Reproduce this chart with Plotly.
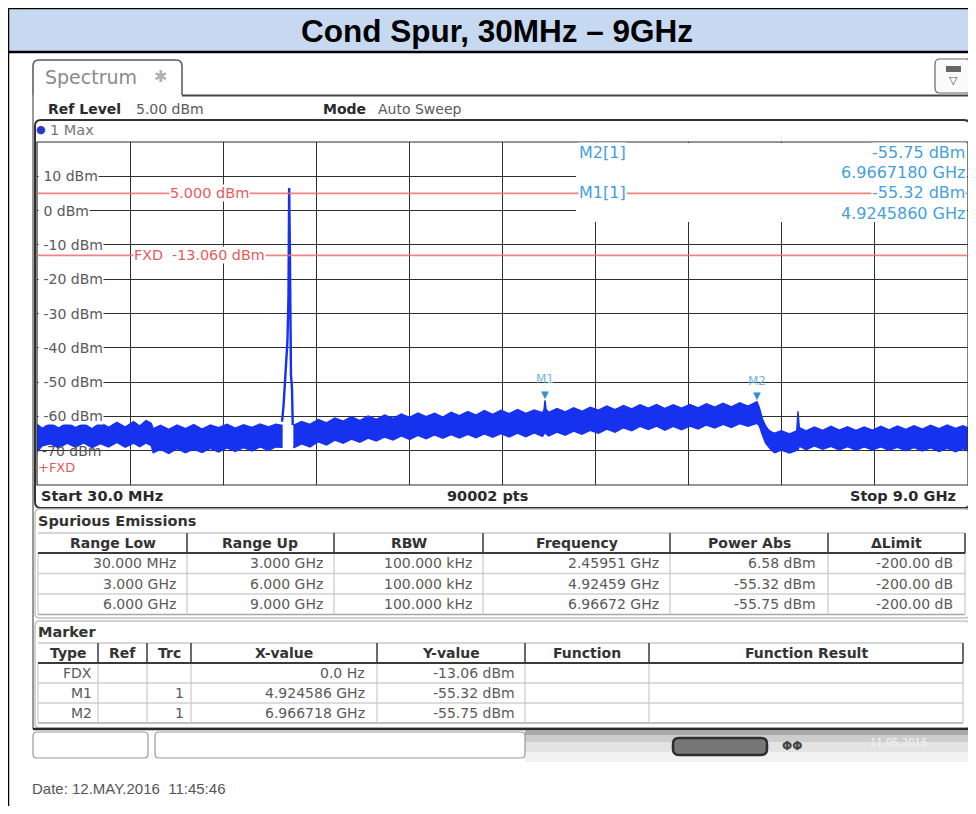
import plotly.graph_objects as go

# ------------------------------------------------------------------ data
sweep_start_ghz = 0.03
sweep_stop_ghz = 9.0
grid_step_ghz = 0.897
y_range_dbm = [-80, 20]
y_tick_dbm = [10, 0, -10, -20, -30, -40, -50, -60, -70]
limit_line_dbm = 5.0
fxd_line_dbm = -13.06

# noise band below the carrier (min / max envelope of the max-hold trace)
noise_low_freq = [0.03, 0.08, 0.16, 0.24, 0.32, 0.40, 0.48, 0.56, 0.64, 0.72,
                  0.80, 0.88, 0.96, 1.02, 1.08, 1.13, 1.15, 1.22, 1.30, 1.38,
                  1.46, 1.54, 1.62, 1.70, 1.78, 1.86, 1.94, 2.02, 2.10, 2.18,
                  2.26, 2.33, 2.39]
noise_low_top = [-62.3, -63.5, -62.0, -63.4, -61.9, -63.3, -62.1, -63.6, -61.8, -63.2,
                 -61.7, -63.1, -61.5, -62.8, -61.2, -62.0, -63.6, -62.6, -63.8, -62.5,
                 -63.6, -62.4, -63.7, -62.5, -63.3, -62.3, -63.4, -62.4, -63.2, -62.2,
                 -63.1, -62.3, -62.6]
noise_low_bottom = [-70.4, -68.6, -68.0, -69.2, -67.8, -69.0, -67.7, -69.1, -67.9, -68.9,
                    -67.6, -69.0, -67.8, -68.8, -67.7, -68.5, -70.6, -69.6, -70.8, -69.4,
                    -70.6, -69.5, -70.5, -69.3, -70.4, -69.2, -70.2, -69.1, -70.1, -68.9,
                    -69.9, -68.9, -69.0]

# carrier at 2.45951 GHz
spur_freq = [2.391, 2.405, 2.419, 2.434, 2.443, 2.453, 2.4595, 2.466, 2.471, 2.477, 2.487, 2.494]
spur_level = [-61.5, -57.0, -50.0, -44.0, -38.0, -25.0, 6.58, -10.0, -35.0, -48.0, -52.0, -62.5]

# noise band above the carrier
noise_high_freq = [2.50, 2.58, 2.66, 2.74, 2.82, 2.90, 2.98, 3.06, 3.14, 3.22,
                   3.30, 3.38, 3.46, 3.54, 3.62, 3.70, 3.78, 3.86, 3.94, 4.02,
                   4.10, 4.18, 4.26, 4.34, 4.42, 4.50, 4.58, 4.66, 4.74, 4.82,
                   4.90, 4.915, 4.9246, 4.935, 4.96, 5.04, 5.12, 5.20, 5.28, 5.36,
                   5.44, 5.52, 5.60, 5.68, 5.76, 5.84, 5.92, 6.00, 6.08, 6.16,
                   6.24, 6.32, 6.40, 6.48, 6.56, 6.64, 6.72, 6.80, 6.88, 6.94,
                   6.9667, 6.99, 7.02, 7.05, 7.08, 7.11, 7.14, 7.20, 7.28, 7.35,
                   7.362, 7.375, 7.44, 7.52, 7.60, 7.68, 7.76, 7.84, 7.92, 8.00,
                   8.08, 8.16, 8.24, 8.32, 8.40, 8.48, 8.56, 8.64, 8.72, 8.80,
                   8.88, 8.95, 9.00]
noise_high_top = [-62.6, -61.5, -62.3, -60.9, -61.9, -60.5, -61.4, -60.1, -61.2, -59.9,
                  -60.9, -59.6, -60.6, -59.3, -60.3, -59.0, -60.1, -59.1, -60.2, -58.8,
                  -59.8, -58.6, -59.6, -58.3, -59.4, -58.2, -59.2, -58.0, -59.1, -58.1,
                  -58.9, -58.1, -55.32, -58.0, -58.8, -57.7, -58.7, -57.5, -58.5, -57.3,
                  -58.2, -57.0, -58.0, -56.8, -57.8, -56.6, -57.6, -56.5, -57.7, -56.6,
                  -57.6, -56.5, -57.5, -56.3, -57.3, -56.2, -57.2, -56.0, -57.0, -56.2,
                  -55.75, -57.5, -60.8, -62.8, -64.0, -64.6, -64.9, -64.2, -65.1, -64.2,
                  -58.5, -63.3, -64.2, -63.1, -64.1, -62.9, -64.0, -63.0, -64.1, -63.1,
                  -64.0, -62.9, -63.9, -62.8, -63.8, -62.7, -63.7, -62.6, -63.6, -62.5,
                  -63.5, -62.7, -63.3]
noise_high_bottom = [-69.2, -68.0, -68.9, -67.4, -68.3, -66.9, -67.8, -66.6, -67.5, -66.3,
                     -67.2, -66.0, -66.9, -65.7, -66.7, -65.5, -66.5, -65.4, -66.4, -65.3,
                     -66.3, -65.2, -66.2, -65.1, -66.1, -65.0, -66.0, -64.9, -65.9, -64.8,
                     -65.8, -65.2, -64.2, -65.1, -65.7, -64.6, -65.5, -64.3, -65.2, -64.1,
                     -64.9, -63.7, -64.6, -63.3, -64.2, -62.9, -63.8, -62.8, -64.0, -62.9,
                     -63.9, -62.8, -63.7, -62.5, -63.4, -62.3, -63.2, -62.1, -62.9, -62.3,
                     -62.0, -62.8, -65.5, -67.8, -69.0, -70.0, -70.6, -69.8, -70.7, -69.9,
                     -69.8, -68.7, -69.7, -68.6, -69.6, -68.7, -69.8, -68.8, -69.9, -68.9,
                     -69.8, -68.9, -69.9, -69.0, -70.0, -69.1, -70.1, -69.2, -70.2, -69.3,
                     -70.3, -69.4, -70.1]

marker_names = ["M1", "M2"]
marker_freq_ghz = [4.924586, 6.966718]
marker_level_dbm = [-55.32, -55.75]

spur_headers = ["Range Low", "Range Up", "RBW", "Frequency", "Power Abs", "ΔLimit"]
spur_range_low = ["30.000 MHz", "3.000 GHz", "6.000 GHz"]
spur_range_up = ["3.000 GHz", "6.000 GHz", "9.000 GHz"]
spur_rbw = ["100.000 kHz", "100.000 kHz", "100.000 kHz"]
spur_peak_freq = ["2.45951 GHz", "4.92459 GHz", "6.96672 GHz"]
spur_power_abs = ["6.58 dBm", "-55.32 dBm", "-55.75 dBm"]
spur_delta_limit = ["-200.00 dB", "-200.00 dB", "-200.00 dB"]

mk_headers = ["Type", "Ref", "Trc", "X-value", "Y-value", "Function", "Function Result"]
mk_type = ["FDX", "M1", "M2"]
mk_ref = ["", "", ""]
mk_trc = ["", "1", "1"]
mk_xval = ["0.0 Hz", "4.924586 GHz", "6.966718 GHz"]
mk_yval = ["-13.06 dBm", "-55.32 dBm", "-55.75 dBm"]
mk_func = ["", "", ""]
mk_result = ["", "", ""]

# ------------------------------------------------------------------ helpers
W, H, OFF = 960, 798, 8


def X(px):
    return (px - OFF) / W


def Y(py):
    return 1 - (py - OFF) / H


FONT = "DejaVu Sans"
GRAY = "#5a5a5a"
DARK = "#2a2a2a"
BLUE = "rgb(22,50,238)"
MK_BLUE = "#45a0dc"
RED_LINE = "rgba(236,110,110,0.85)"
RED_TXT = "#e35c5c"
FS = 14

shapes = []
annotations = []


def line(x0, y0, x1, y1, color, width=1.0):
    shapes.append(dict(type="line", xref="paper", yref="paper",
                       x0=X(x0), y0=Y(y0), x1=X(x1), y1=Y(y1),
                       line=dict(color=color, width=width), layer="above"))


def rect(x0, y0, x1, y1, fill="rgba(0,0,0,0)", color="rgba(0,0,0,0)", width=0):
    shapes.append(dict(type="rect", xref="paper", yref="paper",
                       x0=X(x0), y0=Y(y0), x1=X(x1), y1=Y(y1),
                       fillcolor=fill, line=dict(color=color, width=width), layer="above"))


def rrect(x0, y0, x1, y1, r, fill="rgba(0,0,0,0)", color="#444", width=1.0):
    def P(x, y):
        return f"{X(x):.5f},{Y(y):.5f}"
    path = (f"M{P(x0 + r, y0)} L{P(x1 - r, y0)} Q{P(x1, y0)} {P(x1, y0 + r)} "
            f"L{P(x1, y1 - r)} Q{P(x1, y1)} {P(x1 - r, y1)} L{P(x0 + r, y1)} "
            f"Q{P(x0, y1)} {P(x0, y1 - r)} L{P(x0, y0 + r)} Q{P(x0, y0)} {P(x0 + r, y0)} Z")
    shapes.append(dict(type="path", xref="paper", yref="paper", path=path,
                       fillcolor=fill, line=dict(color=color, width=width), layer="above"))


def text(x, y, s, size=FS, color=GRAY, anchor="left", family=FONT, bg=None,
         xref="paper", yref="paper", yshift=0):
    a = dict(x=X(x) if xref == "paper" else x, y=Y(y) if yref == "paper" else y,
             xref=xref, yref=yref, text=s, showarrow=False, xanchor=anchor,
             yanchor="middle", font=dict(family=family, size=size, color=color),
             borderpad=0, yshift=yshift)
    if bg:
        a["bgcolor"] = bg
    annotations.append(a)


# ------------------------------------------------------------------ traces
fig = go.Figure()
fig.add_trace(go.Scatter(
    x=noise_low_freq + noise_low_freq[::-1],
    y=noise_low_top + noise_low_bottom[::-1],
    mode="lines", fill="toself", fillcolor=BLUE,
    line=dict(color=BLUE, width=1.4), hoverinfo="skip"))
fig.add_trace(go.Scatter(
    x=noise_high_freq + noise_high_freq[::-1],
    y=noise_high_top + noise_high_bottom[::-1],
    mode="lines", fill="toself", fillcolor=BLUE,
    line=dict(color=BLUE, width=1.4), hoverinfo="skip"))
fig.add_trace(go.Scatter(x=spur_freq, y=spur_level, mode="lines",
                         line=dict(color=BLUE, width=2.4), hoverinfo="skip"))

# ------------------------------------------------------------------ frame
rect(8, 8, 976, 52, fill="#c6d9f0")
line(8, 8, 976, 8, "#000", 2.5)
line(8, 52, 976, 52, "#000", 2.5)
line(8, 8, 8, 814, "#000", 2.5)
text(497, 31, "<b>Cond Spur, 30MHz – 9GHz</b>", size=31.5, color="#000",
     anchor="center", family="Liberation Sans, Arial")

tab_path = (f"M{X(33):.5f},{Y(95):.5f} L{X(33):.5f},{Y(66):.5f} Q{X(33):.5f},{Y(60):.5f} {X(39):.5f},{Y(60):.5f} "
            f"L{X(176):.5f},{Y(60):.5f} Q{X(182):.5f},{Y(60):.5f} {X(182):.5f},{Y(66):.5f} L{X(182):.5f},{Y(95):.5f}")
shapes.append(dict(type="path", xref="paper", yref="paper", path=tab_path,
                   line=dict(color="#555", width=1.5), layer="above"))
line(182, 95.5, 973, 95.5, "#444", 2)
line(33, 95, 33, 729, "#777", 1.5)
text(44, 77, "Spectrum", size=19, color="#8a8a8a")
text(160, 76, "✱", size=16, color="#b0b0b0", anchor="center")
rrect(935, 59, 971, 93, 5, fill="#fafafa", color="#666", width=1.2)
rect(946, 66, 961, 72, fill="#666")
text(953.5, 81, "▽", size=11, color="#555", anchor="center")

text(47, 109, "<b>Ref Level</b>", color=DARK)
text(135, 109, "5.00 dBm", color=GRAY)
text(322, 109, "<b>Mode</b>", color=DARK)
text(377, 109, "Auto Sweep", color=GRAY)

# plot box
rrect(35, 120, 970, 508, 6, color="#333", width=2)
text(41, 130, "●", size=11, color="#2836d0", anchor="center")
text(49, 130, "1 Max", size=14.5, color="#777")
rect(37, 142, 968, 485, color="#2c2c2c", width=1.2)

# marker readout area over the grid
rect(576, 143, 967, 222, fill="#ffffff")
for lvl in (limit_line_dbm, fxd_line_dbm):
    shapes.append(dict(type="line", xref="paper", yref="y", x0=X(37), x1=X(968),
                       y0=lvl, y1=lvl, line=dict(color=RED_LINE, width=1.7), layer="above"))
text(209, limit_line_dbm, f"{limit_line_dbm:.3f} dBm", size=14.5, color=RED_TXT,
     anchor="center", bg="#ffffff", yref="y")
text(133, fxd_line_dbm, f"FXD  {fxd_line_dbm:.3f} dBm", size=14.3, color=RED_TXT,
     anchor="left", bg="#ffffff", yref="y")
text(37, 467, "+FXD", size=13, color=RED_TXT)

# y tick labels
for v in y_tick_dbm:
    if v == -70:
        text(41, v, f"{v} dBm", color="#555", yref="y")
    else:
        text(38, v, f"&nbsp;{v} dBm", color=GRAY, bg="#ffffff", yref="y")

# marker readouts
order = [1, 0]
rows_y = [(152, 172), (193, 213)]
for (ya, yb), i in zip(rows_y, order):
    text(578, ya, f"{marker_names[i]}[1]", size=16, color=MK_BLUE, bg="#ffffff")
    text(966, ya, f"{marker_level_dbm[i]:.2f} dBm", size=16, color=MK_BLUE, anchor="right", bg="#ffffff")
    text(966, yb, f"{marker_freq_ghz[i]:.7f} GHz", size=16, color=MK_BLUE, anchor="right")
for n, f, lv in zip(marker_names, marker_freq_ghz, marker_level_dbm):
    text(f, lv, "▼", size=10, color="#3a8fd2", anchor="center", xref="x", yref="y", yshift=6)
    text(f, lv, n, size=12, color="#6fb6e6", anchor="center", xref="x", yref="y", yshift=21)

text(40, 496, "<b>Start 30.0 MHz</b>", size=14.5, color=DARK)
text(487, 496, "<b>90002 pts</b>", size=14.5, color=DARK, anchor="center")
text(957, 496, "<b>Stop 9.0 GHz</b>", size=14.5, color=DARK, anchor="right")


# ------------------------------------------------------------------ tables
def table(edges, y_head, head_h, row_h, headers, cols, pads):
    y0, y1 = y_head, y_head + head_h
    n = len(cols[0])
    yb = y1 + n * row_h
    line(edges[0], y0, edges[-1], y0, "#c8c8c8", 1.5)
    for k in range(n):
        yy = y1 + (k + 1) * row_h
        line(edges[0], yy, edges[-1], yy, "#cfcfcf" if k < n - 1 else "#a8a8a8", 1.5)
    for j, e in enumerate(edges):
        line(e, y1, e, yb, "#c8c8c8", 1.2)
        if j > 0:
            line(e, y0, e, y1, "#444", 1.6)
    line(edges[0], y1, edges[-1], y1, "#3a3a3a", 2)
    for j, hname in enumerate(headers):
        text((edges[j] + edges[j + 1]) / 2, (y0 + y1) / 2, f"<b>{hname}</b>",
             color="#333", anchor="center")
        for k in range(n):
            s = cols[j][k]
            if s:
                text(edges[j + 1] - pads[j], y1 + (k + 0.5) * row_h, s,
                     color=GRAY, anchor="right")


rrect(35, 509, 970, 618, 5, color="#c4c4c4", width=1.5)
text(37, 521, "<b>Spurious Emissions</b>", size=14.5, color="#333")
table([38, 187, 334, 483, 670, 828, 965], 533, 20, 20.5, spur_headers,
      [spur_range_low, spur_range_up, spur_rbw, spur_peak_freq, spur_power_abs, spur_delta_limit],
      [10, 10, 10, 10, 11, 11])

rrect(35, 621, 970, 728, 5, color="#c4c4c4", width=1.5)
text(37, 632, "<b>Marker</b>", size=14.5, color="#333")
table([38, 98, 147, 191, 377, 525, 649, 963], 643, 20, 20, mk_headers,
      [mk_type, mk_ref, mk_trc, mk_xval, mk_yval, mk_func, mk_result],
      [5, 6, 6, 11, 9, 6, 6])

# status bar
line(33, 729, 976, 729, "#2a2a2a", 2.5)
rect(525, 730, 976, 735, fill="#a9a9a9")
rect(525, 735, 976, 742, fill="#cdcdcd")
rect(525, 742, 976, 752, fill="#e3e3e3")
rect(525, 752, 976, 762, fill="#f1f1f1")
rrect(33, 732, 148, 758, 4, fill="#ffffff", color="#999", width=1.2)
rrect(155, 732, 525, 758, 4, fill="#ffffff", color="#999", width=1.2)
rrect(673, 738, 767, 755, 6, fill="#777", color="#2e2e2e", width=2.5)
text(792, 746, "<b>ΦΦ</b>", size=12, color="#444", anchor="center")
text(898, 742, "11.05.2016", size=10, color="#f4f4f4", anchor="center")

text(31, 788, "Date: 12.MAY.2016  11:45:46", size=15, color="#555",
     family="Liberation Sans, Arial")

# ------------------------------------------------------------------ layout
fig.update_layout(
    width=W, height=H,
    margin=dict(l=0, r=0, t=0, b=0),
    paper_bgcolor="#ffffff",
    plot_bgcolor="rgba(0,0,0,0)",
    showlegend=False,
    hovermode=False,
    shapes=shapes,
    annotations=annotations,
    xaxis=dict(domain=[X(37), X(968)], range=[sweep_start_ghz, sweep_stop_ghz],
               tick0=sweep_start_ghz, dtick=grid_step_ghz, showgrid=True,
               gridcolor="#2e2e2e", gridwidth=1.2, zeroline=False,
               showticklabels=False, ticks="", showline=False, fixedrange=True),
    yaxis=dict(domain=[Y(485), Y(142)], range=y_range_dbm, dtick=10,
               showgrid=True, gridcolor="#2e2e2e", gridwidth=1.2, zeroline=False,
               showticklabels=False, ticks="", showline=False, fixedrange=True),
)

fig.write_html("out.html")
